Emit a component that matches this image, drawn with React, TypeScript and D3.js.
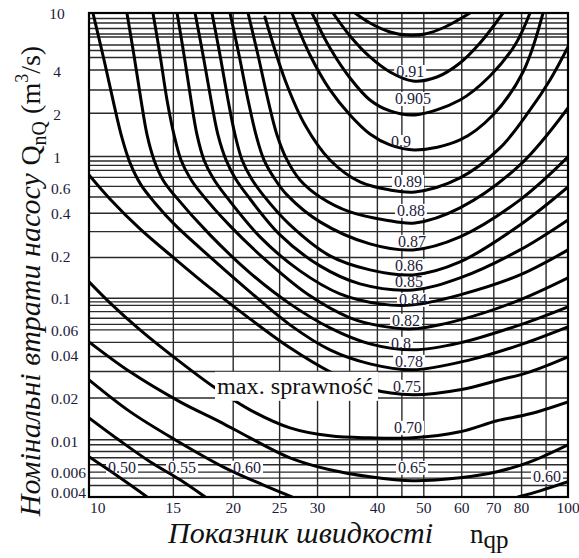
import React from 'react';
import * as d3 from 'd3';

// ---- axes ----
const xTicks = [10, 15, 20, 25, 30, 40, 50, 60, 70, 80, 100];
const xGrid = [15, 20, 25, 30, 35, 40, 45, 50, 60, 70, 80, 90];
const yTicks = [10, 4, 2, 1, 0.6, 0.4, 0.2, 0.1, 0.06, 0.04, 0.02, 0.01, 0.006, 0.004];
const yGrid = [9.15, 8.51, 7.79, 7.12, 6.79, 5.96, 5.46, 4.87, 3.98, 2.88, 1.98, 0.984, 0.915, 0.851, 0.785, 0.701, 0.606, 0.511, 0.393, 0.292, 0.192, 0.0995, 0.0937, 0.0886, 0.0801, 0.072, 0.0652, 0.0596, 0.0487, 0.0388, 0.0304, 0.0198, 0.0101, 0.0093, 0.00835, 0.00754, 0.00673, 0.00598, 0.00543, 0.00482];

// ---- efficiency contours: [n_q, Q] ----
const eff050: [number, number][] = [[10, 0.00766], [11.61, 0.00546], [13.22, 0.00401]];
const eff055: [number, number][] = [[10, 0.01438], [11.61, 0.00992], [13.41, 0.00707], [15.49, 0.00528], [17.46, 0.00401]];
const eff060a: [number, number][] = [[10, 0.0266], [12.18, 0.0159], [15.12, 0.0101], [19.23, 0.00641], [23.08, 0.00487], [26.53, 0.00401]];
const eff060b: [number, number][] = [[78.64, 0.00401], [87.41, 0.00442], [100, 0.00512]];
const eff065: [number, number][] = [[10, 0.04912], [12.18, 0.03026], [15.49, 0.01863], [18.77, 0.01349], [21.68, 0.01041], [26.28, 0.007537], [31.85, 0.006209], [38.6, 0.005545], [47.47, 0.005198], [59.5, 0.005456], [71.09, 0.006012], [83.31, 0.007066], [100, 0.009298]];
const eff070: [number, number][] = [[10, 0.1295], [11.06, 0.09224], [12.78, 0.05963], [15.49, 0.03555], [18.33, 0.02337], [21.68, 0.01637], [26.28, 0.01224], [31.85, 0.01075], [38.6, 0.01041], [47.47, 0.01041], [59.5, 0.01147], [71.09, 0.01371], [83.31, 0.01535], [100, 0.01863]];
const eff075: [number, number][] = [[10, 0.7298], [11.06, 0.4952], [12.78, 0.305], [15.12, 0.1878], [17.89, 0.1175], [21.68, 0.07123], [26.28, 0.04458], [31.85, 0.03026], [38.6, 0.02299], [47.47, 0.02086], [59.5, 0.02262], [72.12, 0.02659], [83.31, 0.03026], [100, 0.03854]];
const eff078: [number, number][] = [[10.19, 10], [10.75, 4.68], [11.28, 2.262], [11.72, 1.327], [12.18, 0.8859], [12.84, 0.6209], [13.73, 0.4642], [15.12, 0.3253], [17.89, 0.194], [21.68, 0.1102], [26.28, 0.06465], [31.85, 0.04316], [38.6, 0.03442], [47.47, 0.03125], [62.43, 0.03672], [79.4, 0.04679], [100, 0.0626]];
const eff080: [number, number][] = [[12.0, 10], [12.41, 5.073], [12.84, 2.452], [13.22, 1.393], [13.67, 0.9299], [14.27, 0.6731], [15.12, 0.5198], [17.89, 0.2768], [21.68, 0.1498], [26.28, 0.09076], [31.85, 0.06159], [38.6, 0.04755], [47.47, 0.04316], [59.5, 0.04833], [79.4, 0.06465], [100, 0.08647]];
const eff082: [number, number][] = [[13.6, 10], [14.07, 5.073], [14.55, 2.452], [15.05, 1.393], [15.56, 0.9299], [16.25, 0.6953], [17.05, 0.5545], [19.7, 0.3201], [23.87, 0.1732], [28.93, 0.1033], [35.07, 0.07239], [40.51, 0.06361], [47.47, 0.0606], [59.5, 0.07009], [79.4, 0.09682], [100, 0.1381]];
const eff084: [number, number][] = [[15.27, 10], [15.79, 5.073], [16.33, 2.452], [16.81, 1.393], [17.38, 0.9299], [18.15, 0.6953], [19.23, 0.5283], [22.75, 0.268], [27.57, 0.1547], [33.42, 0.1067], [40.51, 0.09076], [47.47, 0.08931], [59.5, 0.105], [79.4, 0.145], [100, 0.2172]];
const eff085: [number, number][] = [[16.65, 10], [17.3, 5.073], [17.98, 2.452], [18.59, 1.393], [19.32, 0.9299], [20.18, 0.6953], [21.37, 0.5283], [25.05, 0.2768], [30.36, 0.1677], [36.79, 0.1254], [47.47, 0.1138], [59.5, 0.1381], [79.4, 0.2172], [100, 0.3527]];
const eff086: [number, number][] = [[18.06, 10], [18.77, 5.073], [19.51, 2.452], [20.18, 1.393], [20.87, 0.9299], [21.79, 0.6953], [23.08, 0.5283], [26.28, 0.3253], [31.85, 0.1971], [38.6, 0.1572], [47.47, 0.145], [59.5, 0.1789], [79.4, 0.3253], [100, 0.6011]];
const eff087: [number, number][] = [[19.7, 10], [20.57, 5.073], [21.48, 2.452], [22.32, 1.393], [23.19, 0.9299], [24.34, 0.6953], [25.9, 0.5283], [30.36, 0.3415], [38.6, 0.2393], [47.47, 0.2172], [59.5, 0.268], [79.4, 0.4873], [100, 0.9761]];
const eff088: [number, number][] = [[21.48, 10], [22.53, 5.073], [23.64, 2.452], [24.69, 1.393], [25.9, 0.9299], [27.57, 0.6731], [30.36, 0.5115], [35.07, 0.4014], [41.49, 0.3527], [47.93, 0.336], [59.5, 0.4282], [79.4, 0.8577], [100, 2.155]];
const eff089: [number, number][] = [[23.3, 9.374], [25.66, 3.387], [28.25, 1.637], [31.85, 0.9299], [36.79, 0.6517], [42.5, 0.5727], [47.93, 0.5545], [59.5, 0.6953], [72.12, 1.129], [83.31, 2.086], [91.71, 3.387], [100, 5.774]];
const eff090: [number, number][] = [[26.53, 10], [28.93, 5.073], [31.85, 2.882], [35.07, 1.924], [38.6, 1.415], [42.5, 1.185], [47.93, 1.093], [59.5, 1.285], [69.73, 1.924], [80.55, 3.854], [88.68, 10]];
const eff0905: [number, number][] = [[29.21, 10], [31.85, 5.681], [35.07, 3.498], [38.6, 2.452], [42.5, 2.053], [47.93, 1.924], [59.5, 2.452], [68.73, 3.613], [77.51, 5.963], [83.31, 10]];
const eff091: [number, number][] = [[32.31, 10], [35.07, 6.898], [38.6, 4.912], [42.5, 3.854], [47.47, 3.333], [53.27, 3.555], [59.5, 4.459], [65.51, 6.159], [73.17, 10]];
const effTop: [number, number][] = [[35.92, 10], [38.6, 8.507], [42.5, 7.358], [46.12, 7.01], [50.29, 7.124], [55.36, 7.975], [62.43, 10]];

const curves = [eff050, eff055, eff060a, eff060b, eff065, eff070, eff075, eff078, eff080, eff082, eff084, eff085, eff086, eff087, eff088, eff089, eff090, eff0905, eff091, effTop];

// ---- contour labels ----
const labelText = ['0.91', '0.905', '0.9', '0.89', '0.88', '0.87', '0.86', '0.85', '0.84', '0.82', '0.8', '0.78', '0.75', '0.70', '0.65', '0.60', '0.50', '0.55', '0.60'];
const labelN = [46.83, 47.47, 44.82, 46.35, 47.0, 47.24, 46.59, 46.59, 47.47, 45.9, 44.82, 46.59, 46.12, 46.35, 47.24, 90.4, 11.72, 15.64, 21.37];
const labelQ = [3.854, 2.492, 1.244, 0.6517, 0.408, 0.2472, 0.1677, 0.1295, 0.09682, 0.06897, 0.04755, 0.03555, 0.02375, 0.01224, 0.006413, 0.005545, 0.006413, 0.006413, 0.006413];

const maxLabel = 'max. sprawność';
const maxLabelN = 26.92;
const maxLabelQ = 0.02375;

const X0 = 89, X1 = 568, Y0 = 13, Y1 = 497;

export default function App() {
  const x = d3.scaleLog().domain([10, 100]).range([X0, X1]);
  const y = d3.scaleLog().domain([0.004, 10]).range([Y1, Y0]);
  const line = d3
    .line<[number, number]>()
    .x((d) => x(d[0]))
    .y((d) => y(d[1]))
    .curve(d3.curveCatmullRom.alpha(0.5));

  const labelW = (t: string) => t.replace(/[^0-9]/g, '').length * 8 + (t.includes('.') ? 4 : 0);
  const mx = x(maxLabelN);
  const my = y(maxLabelQ);

  const tickDy = (v: number) => (v === 10 ? 5.5 : v === 0.004 ? 1 : v >= 1 ? 7.5 : 6.5);

  return (
    <svg
      width={579}
      height={558}
      style={{ position: 'absolute', left: 0, top: 0, background: '#fff' }}
      fontFamily="'Liberation Serif', 'Times New Roman', serif"
    >
      <defs>
        <clipPath id="plotClip">
          <rect x={X0} y={Y0} width={X1 - X0} height={Y1 - Y0} />
        </clipPath>
      </defs>
      <rect x={0} y={0} width={579} height={558} fill="#fff" />
      {/* grid */}
      <g stroke="#2a2a2a" strokeWidth={1.4}>
        {xGrid.map((v) => (
          <line key={'gx' + v} x1={x(v)} x2={x(v)} y1={Y0} y2={Y1} />
        ))}
        {yGrid.map((v) => (
          <line key={'gy' + v} x1={X0} x2={X1} y1={y(v)} y2={y(v)} />
        ))}
      </g>
      {/* label backgrounds */}
      <g fill="#fff">
        {labelText.map((t, i) => {
          const w = labelW(t) + 4;
          return <rect key={'lb' + i} x={x(labelN[i]) - w / 2} y={y(labelQ[i]) - 7} width={w} height={14} />;
        })}
      </g>
      {/* curves */}
      <g clipPath="url(#plotClip)" fill="none" stroke="#000" strokeWidth={3} strokeLinecap="round">
        {curves.map((c, i) => (
          <path key={'c' + i} d={line(c) || ''} />
        ))}
      </g>
      {/* labels */}
      <g fontSize={16} fill="#1b1b3a" textAnchor="middle">
        {labelText.map((t, i) => (
          <text key={'lt' + i} x={x(labelN[i])} y={y(labelQ[i]) + 5.5}>
            {t}
          </text>
        ))}
      </g>
      <rect x={mx - 80} y={my - 15} width={163} height={29} fill="#fff" />
      <text x={mx - 78} y={my + 7} fontSize={23} fill="#111" textLength={156} lengthAdjust="spacingAndGlyphs">
        {maxLabel}
      </text>
      {/* frame */}
      <rect x={X0} y={Y0} width={X1 - X0} height={Y1 - Y0} fill="none" stroke="#000" strokeWidth={2.2} />
      {/* y ticks */}
      <g fontSize={15.5} fill="#1b1b3a">
        {yTicks.map((v, i) => {
          const isInt = v >= 1;
          return (
            <text key={'yt' + i} x={isInt ? 57 : 51} y={y(v) + tickDy(v)} textAnchor={isInt ? 'middle' : 'start'}>
              {String(v)}
            </text>
          );
        })}
      </g>
      {/* x ticks */}
      <g fontSize={15.5} fill="#1b1b3a">
        {xTicks.map((v, i) => (
          <text key={'xt' + i} x={v === 10 ? x(v) + 1 : x(v)} y={513} textAnchor={v === 10 ? 'start' : 'middle'}>
            {v}
          </text>
        ))}
      </g>
      {/* axis titles */}
      <text x={168} y={543} fontSize={30} fontStyle="italic" fill="#111">
        Показник швидкості
      </text>
      <text x={470} y={543} fontSize={27} fill="#111">
        n<tspan fontSize={25} dy={5}>qp</tspan>
      </text>
      <text transform="translate(40,281) rotate(-90)" textAnchor="middle" fontSize={30} fill="#111">
        <tspan fontStyle="italic">Номінальні втрати насосу </tspan>
        <tspan fontSize={28}>Q</tspan>
        <tspan fontSize={20} dy={6}>nQ</tspan>
        <tspan fontSize={28} dy={-6}> (m</tspan>
        <tspan fontSize={18} dy={-12}>3</tspan>
        <tspan fontSize={28} dy={12}>/s)</tspan>
      </text>
    </svg>
  );
}
